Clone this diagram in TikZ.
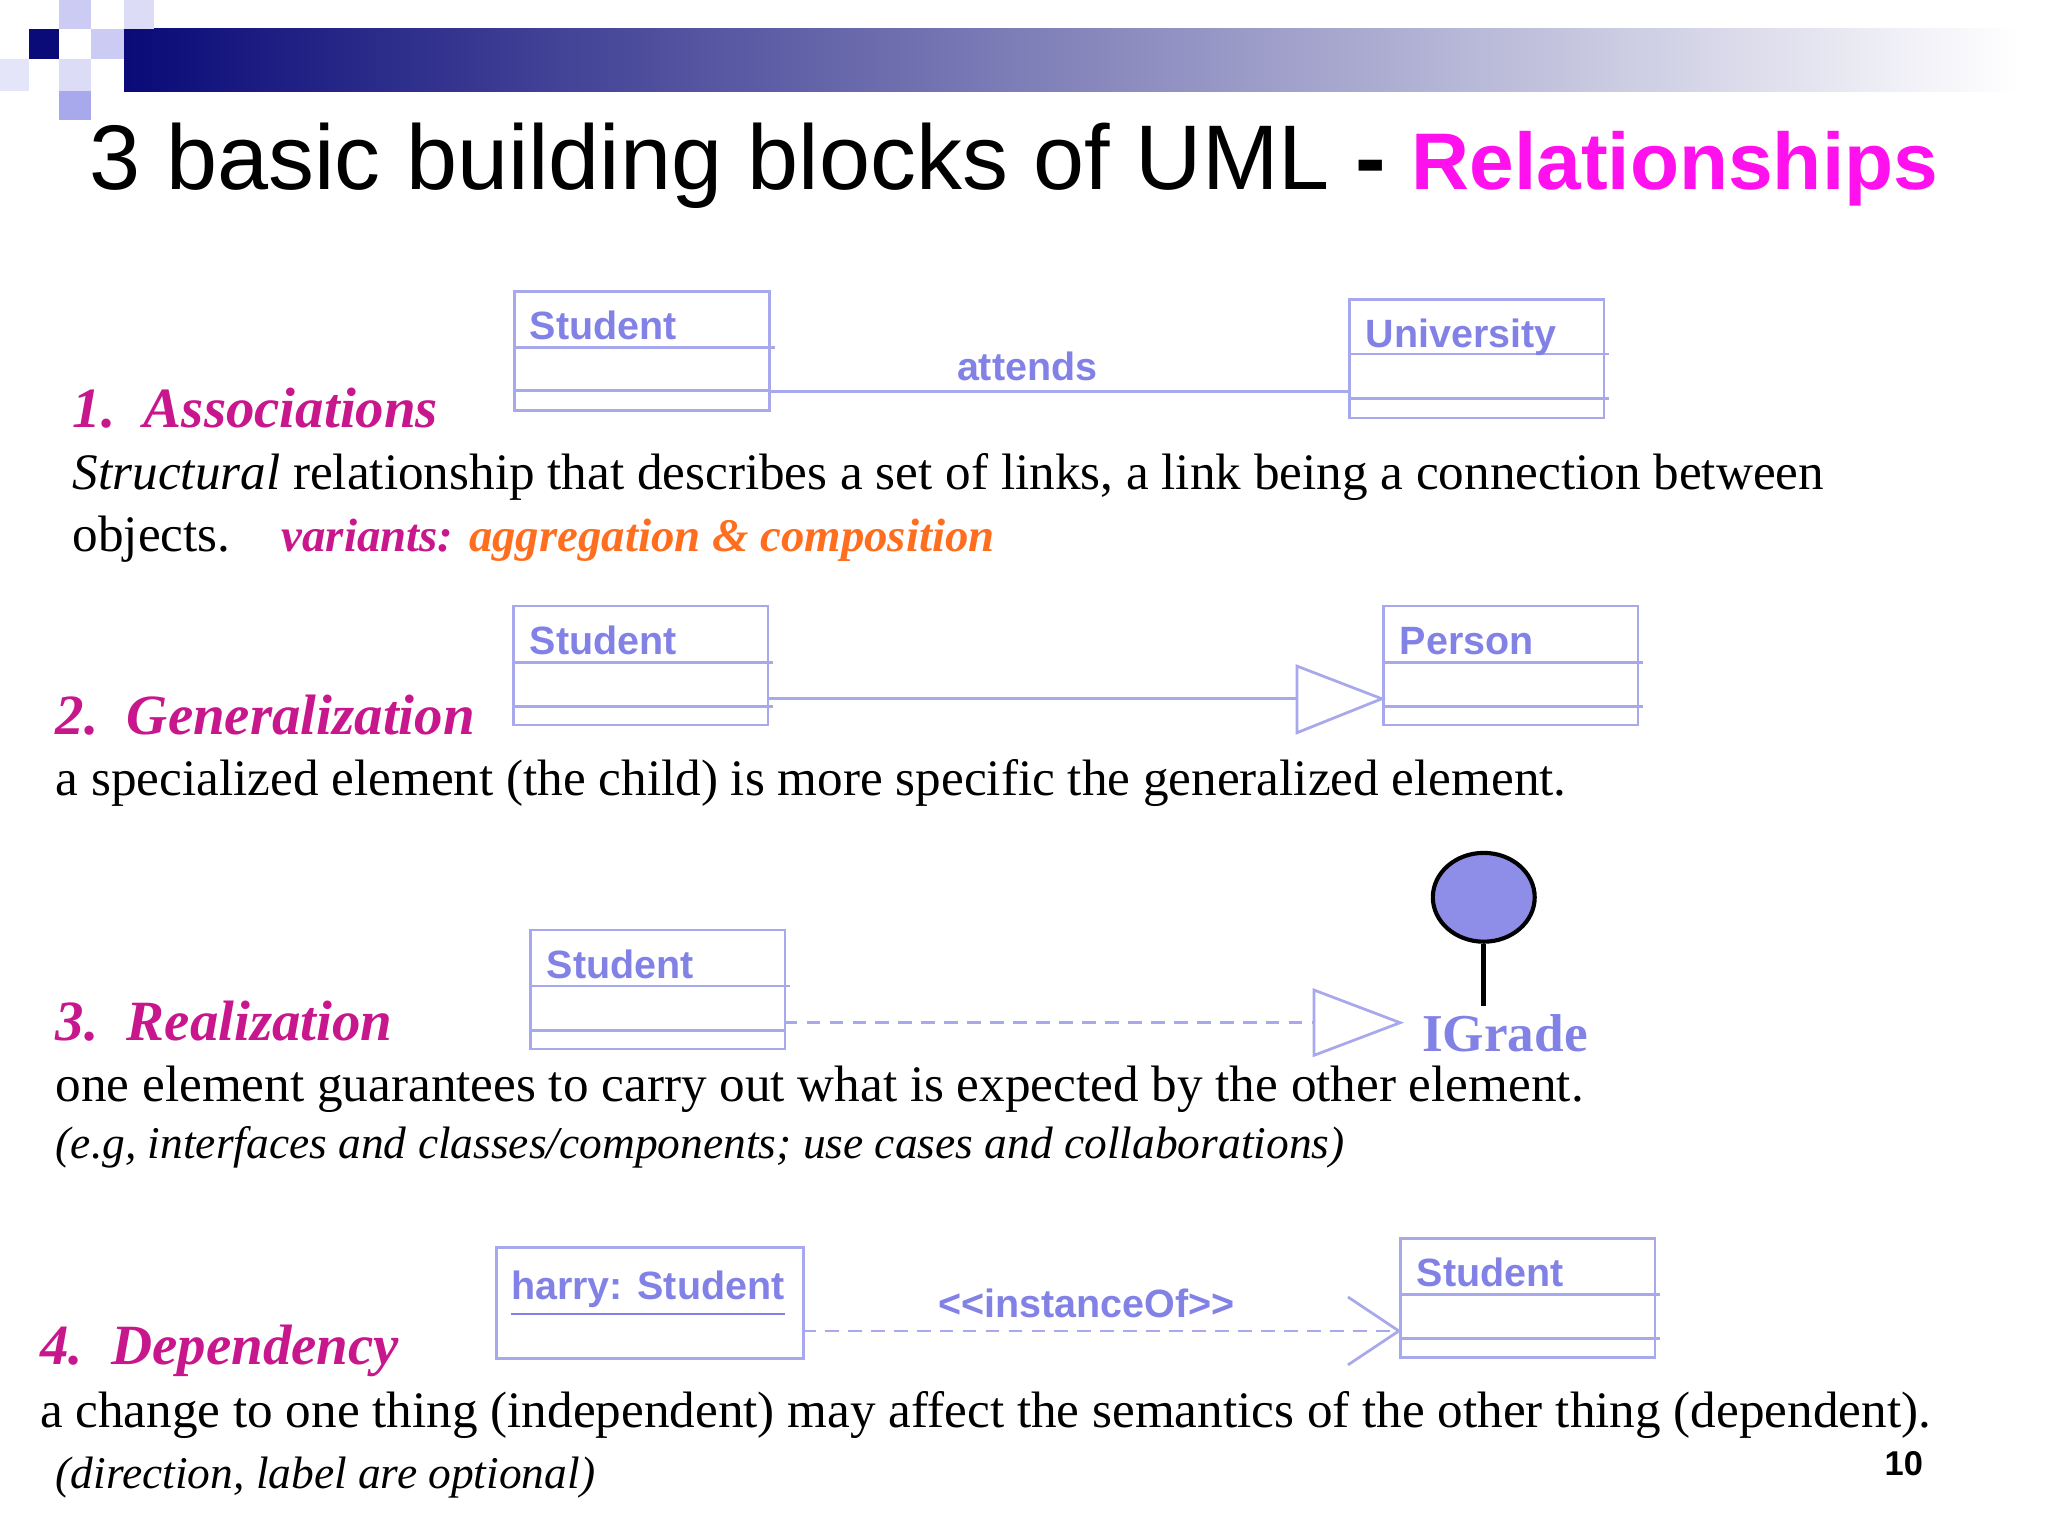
\documentclass[tikz,border=0pt]{standalone}
\usepackage{fontspec}
\setmainfont{Liberation Serif}
\newfontfamily\sans{Liberation Sans}
\usetikzlibrary{positioning,calc,shapes.geometric}
\definecolor{lav}{HTML}{A8A8EC}
\definecolor{lavtext}{HTML}{8282E6}
\definecolor{navy}{HTML}{0A0A78}
\definecolor{mag}{HTML}{C8168C}
\definecolor{pinky}{HTML}{FF11EE}
\definecolor{orng}{HTML}{FF6E1E}
\tikzset{
    cbox/.style = {draw=lav, line width=0.6pt, minimum width=1.95cm, inner sep=0pt},
    clabel/.style = {font=\sans\bfseries\fontsize{8.6}{10}\selectfont, text=lavtext, anchor=base west, inner sep=0pt},
    head/.style = {font=\bfseries\itshape\fontsize{12.4}{14}\selectfont, text=mag, anchor=base west, inner sep=0pt},
    body/.style = {font=\fontsize{11.15}{13}\selectfont, anchor=base west, inner sep=0pt},
    note/.style = {font=\itshape\fontsize{9.9}{12}\selectfont, anchor=base west, inner sep=0pt},
    rel/.style = {draw=lav, line width=0.6pt},
}
\begin{document}
\begin{tikzpicture}
    \useasboundingbox (0,0) rectangle (15.68,-11.76);
    % header
    \shade[left color=navy, right color=white] (0.95,-0.22) rectangle (15.45,-0.70);
    \fill[navy] (0.22,-0.22) rectangle (0.45,-0.45);
    \fill[lav!60] (0.45,0) rectangle (0.70,-0.22);
    \fill[lav!40] (0.95,0) rectangle (1.18,-0.22);
    \fill[lav!60] (0.70,-0.22) rectangle (0.95,-0.45);
    \fill[lav!30] (0,-0.45) rectangle (0.22,-0.70);
    \fill[lav!40] (0.45,-0.45) rectangle (0.70,-0.70);
    \fill[lav] (0.45,-0.70) rectangle (0.70,-0.92);
    \node[anchor=base west, inner sep=0pt, font=\sans\fontsize{20}{24}\selectfont] (title) at (0.68,-1.45)
        {3 basic building blocks of UML \textbf{-} \textcolor{pinky}{\bfseries\fontsize{17.5}{20}\selectfont Relationships}};

    % 1. associations
    \node[cbox, minimum height=0.91cm, anchor=north west] (s1) at (3.93,-2.22) {};
    \draw[rel] (3.93,-2.66) -- (5.93,-2.66) (3.93,-2.99) -- (5.88,-2.99);
    \node[clabel] (s1t) at (4.05,-2.60) {Student};
    \node[cbox, minimum height=0.91cm, anchor=north west] (u1) at (10.32,-2.28) {};
    \draw[rel] (10.32,-2.71) -- (12.32,-2.71) (10.32,-3.05) -- (12.32,-3.05);
    \node[clabel] (u1t) at (10.45,-2.66) {University};
    \coordinate (a1) at (5.88,-3.00);
    \coordinate (a2) at (10.32,-3.00);
    \draw[rel] (a1) -- (a2);
    \node[clabel] (att) at (7.32,-2.91) {attends};
    \node[head] (h1) at (0.55,-3.27) {1.\ \ Associations};
    \node[body] (b1) at (0.55,-3.75) {\textit{Structural} relationship that describes a set of links, a link being a connection between};
    \node[body] (b1b) at (0.55,-4.22) {objects.\ \ \ \ \textcolor{mag}{\bfseries\itshape\fontsize{10.2}{12}\selectfont variants: \textcolor{orng}{aggregation \& composition}}};

    % 2. generalization
    \node[cbox, minimum height=0.91cm, anchor=north west] (s2) at (3.92,-4.63) {};
    \draw[rel] (3.92,-5.07) -- (5.92,-5.07) (3.92,-5.41) -- (5.92,-5.41);
    \node[clabel] (s2t) at (4.05,-5.01) {Student};
    \node[cbox, minimum height=0.91cm, anchor=north west] (p2) at (10.58,-4.63) {};
    \draw[rel] (10.58,-5.07) -- (12.58,-5.07) (10.58,-5.41) -- (12.58,-5.41);
    \node[clabel] (p2t) at (10.71,-5.01) {Person};
    \coordinate (g1) at (5.87,-5.35);
    \coordinate (g2) at (9.93,-5.35);
    \draw[rel] (g1) -- (g2);
    \draw[rel] (g2) -- ++(0,0.25) -- (10.58,-5.35) -- (9.93,-5.61) -- cycle;
    \node[head] (h2) at (0.42,-5.62) {2.\ \ Generalization};
    \node[body] (b2) at (0.42,-6.09) {a specialized element (the child) is more specific the generalized element.};

    % 3. realization
    \node[cbox, minimum height=0.91cm, anchor=north west] (s3) at (4.05,-7.11) {};
    \draw[rel] (4.05,-7.55) -- (6.05,-7.55) (4.05,-7.89) -- (6.00,-7.89);
    \node[clabel] (s3t) at (4.18,-7.49) {Student};
    \coordinate (r1) at (6.00,-7.83);
    \coordinate (r2) at (10.06,-7.83);
    \draw[rel, dashed, dash pattern=on 3pt off 2pt] (r1) -- (r2);
    \draw[rel] (r2) -- ++(0,0.25) -- (10.72,-7.83) -- (10.06,-8.08) -- cycle;
    \node[draw=black, line width=0.9pt, fill=lavtext!90, ellipse, minimum width=0.78cm, minimum height=0.68cm, inner sep=0pt] (ig) at (11.36,-6.87) {};
    \coordinate (igs) at (11.36,-7.70);
    \draw[line width=1.1pt] (ig.south) -- (igs);
    \node[anchor=base west, inner sep=0pt, text=lavtext, font=\bfseries\fontsize{11.6}{14}\selectfont] (igt) at (10.88,-8.05) {IGrade};
    \node[head] (h3) at (0.42,-7.97) {3.\ \ Realization};
    \node[body] (b3) at (0.42,-8.43) {one element guarantees to carry out what is expected by the other element.};
    \node[note] (n3) at (0.42,-8.87) {(e.g, interfaces and classes/components; use cases and collaborations)};

    % 4. dependency
    \node[cbox, minimum width=2.35cm, minimum height=0.85cm, anchor=north west] (hs) at (3.79,-9.54) {};
    \node[clabel, anchor=base] (hst) at (4.96,-9.95) {\underline{harry: Student}};
    \node[cbox, minimum height=0.91cm, anchor=north west] (s4) at (10.71,-9.47) {};
    \draw[rel] (10.71,-9.91) -- (12.71,-9.91) (10.71,-10.25) -- (12.71,-10.25);
    \node[clabel] (s4t) at (10.84,-9.85) {Student};
    \coordinate (d1) at (6.14,-10.19);
    \coordinate (d2) at (10.71,-10.19);
    \draw[rel, dashed, dash pattern=on 3pt off 2pt] (d1) -- (d2);
    \draw[rel] (10.32,-9.93) -- (d2) -- (10.32,-10.45);
    \node[clabel, anchor=base] (inst) at (8.32,-10.09) {<{}<instanceOf>{}>};
    \node[head] (h4) at (0.30,-10.45) {4.\ \ Dependency};
    \node[body] (b4) at (0.30,-10.93) {a change to one thing (independent) may affect the semantics of the other thing (dependent).};
    \node[note] (n4) at (0.42,-11.40) {(direction, label are optional)};
    \node[anchor=base east, inner sep=0pt, font=\sans\bfseries\fontsize{7.5}{9}\selectfont] (pg) at (14.73,-11.30) {10};
\end{tikzpicture}
\end{document}
